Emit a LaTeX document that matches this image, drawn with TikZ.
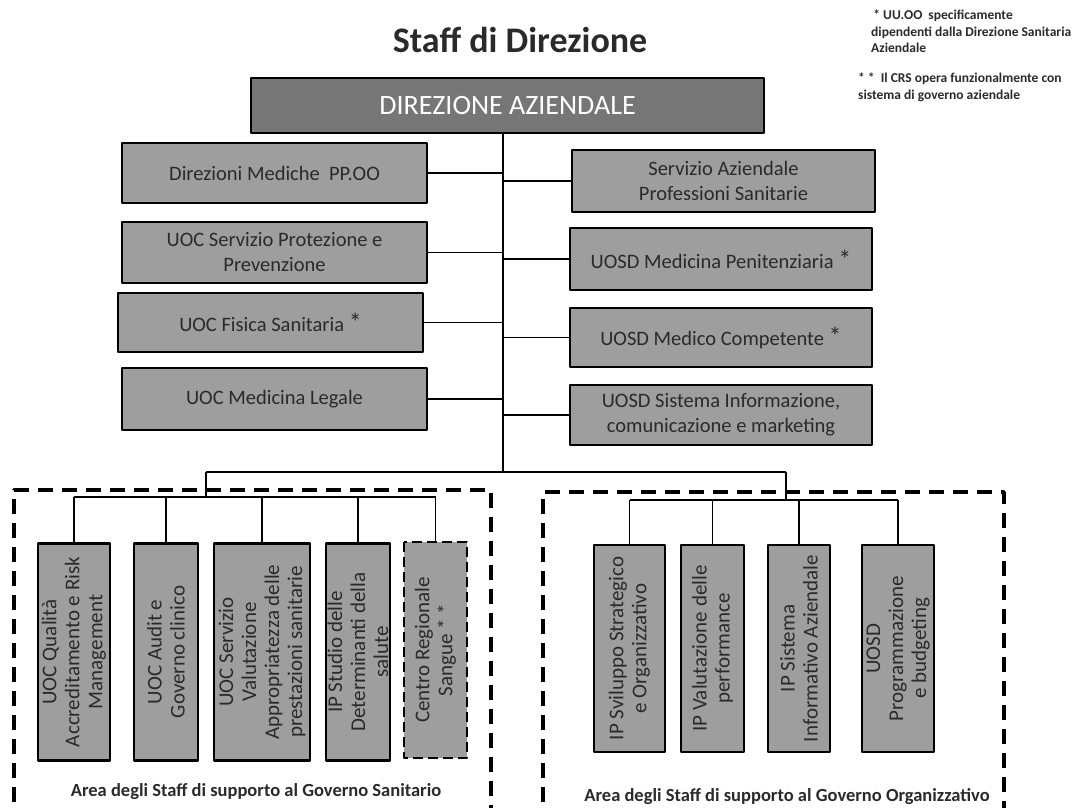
\documentclass[tikz,border=0pt]{standalone}
\usepackage{fontspec}
\setmainfont{Carlito}
\definecolor{boxgray}{HTML}{9E9E9E}
\definecolor{topgray}{HTML}{767676}
\definecolor{inkgray}{HTML}{2A2A2A}
\newcommand{\uustar}{{\fontsize{26}{26}\selectfont *}}
\tikzset{
  unitbox/.style={draw=black, line width=2.6pt, fill=boxgray, text=inkgray, align=center, inner sep=1pt, font=\fontsize{20.5}{25}\selectfont},
  colbox/.style={unitbox, rotate=90, font=\fontsize{21}{23}\selectfont},
  wire/.style={line width=1.4pt},
  areaframe/.style={line width=3.6pt, dash pattern=on 15pt off 9pt},
  arealabel/.style={font=\bfseries\fontsize{18.5}{20}\selectfont, text=inkgray},
  notetext/.style={anchor=north west, align=left, inner sep=0pt, font=\bfseries\fontsize{13.5}{16.5}\selectfont, text=inkgray},
}
\begin{document}
\begin{tikzpicture}[x=1pt, y=-1pt, line join=round]
\def \trunkx{503};
\def \forky{472};
\useasboundingbox (0,0) rectangle (1079,807);
\clip (0,0) rectangle (1079,807);
\node[font=\bfseries\fontsize{36}{40}\selectfont, text=inkgray] (title) at (520,40) {Staff di Direzione};
\node[notetext] (note1) at (871,10) {\,* UU.OO\ \ specificamente\\dipendenti dalla Direzione Sanitaria\\Aziendale};
\node[notetext] (note2) at (858,73) {* *\ \ Il CRS opera funzionalmente con\\sistema di governo aziendale};

\node[unitbox, fill=topgray, text=white, minimum width=513pt, minimum height=55pt, font=\fontsize{28}{30}\selectfont] (dir) at (507.5,105.5) {DIREZIONE AZIENDALE};

\node[unitbox, minimum width=305pt, minimum height=60pt] (l1) at (274.5,173) {Direzioni Mediche\ \ PP.OO};
\node[unitbox, minimum width=305pt, minimum height=61pt] (l2) at (274.5,252.5) {UOC Servizio Protezione e\\Prevenzione};
\node[unitbox, minimum width=305pt, minimum height=59pt] (l3) at (270.5,322.5) {UOC Fisica Sanitaria \uustar};
\node[unitbox, minimum width=305pt, minimum height=62pt] (l4) at (274.5,399) {UOC Medicina Legale};

\node[unitbox, minimum width=303pt, minimum height=62pt] (r1) at (723.5,181) {Servizio Aziendale\\Professioni Sanitarie};
\node[unitbox, minimum width=302pt, minimum height=62pt] (r2) at (721,259) {UOSD Medicina Penitenziaria \uustar};
\node[unitbox, minimum width=302pt, minimum height=59pt] (r3) at (721,337.5) {UOSD Medico Competente \uustar};
\node[unitbox, minimum width=302pt, minimum height=60pt] (r4) at (721,415) {UOSD Sistema Informazione,\\comunicazione e marketing};

\draw[areaframe] (14,850) rectangle (491,490);
\draw[areaframe] (543,850) rectangle (1004,492);

\node[colbox, minimum width=217pt, minimum height=72pt] (v1) at (74,652) {UOC Qualità\\Accreditamento e Risk\\Management};
\node[colbox, minimum width=217pt, minimum height=64pt] (v2) at (166,652) {UOC Audit e\\Governo clinico};
\node[colbox, minimum width=217pt, minimum height=96pt] (v3) at (262,652) {UOC Servizio\\Valutazione\\Appropriatezza delle\\prestazioni sanitarie};
\node[colbox, minimum width=217pt, minimum height=64pt] (v4) at (358,652) {IP Studio delle\\Determinanti della\\salute};
\node[colbox, dash pattern=on 10pt off 5pt, minimum width=216pt, minimum height=63pt] (v5) at (435.5,650) {Centro Regionale\\Sangue * *};

\node[colbox, minimum width=207pt, minimum height=71pt] (w1) at (629.5,648.5) {IP Sviluppo Strategico\\e Organizzativo};
\node[colbox, minimum width=207pt, minimum height=63pt] (w2) at (712.5,648.5) {IP Valutazione delle\\performance};
\node[colbox, minimum width=207pt, minimum height=62pt] (w3) at (799,648.5) {IP Sistema\\Informativo Aziendale};
\node[colbox, minimum width=207pt, minimum height=72pt] (w4) at (898,648.5) {UOSD\\Programmazione\\e budgeting};

\node[arealabel] (areasan) at (256,792) {Area degli Staff di supporto al Governo Sanitario};
\node[arealabel] (areaorg) at (787,797) {Area degli Staff di supporto al Governo Organizzativo};

\coordinate (fork) at (\trunkx,\forky);
\coordinate (forkl) at (206,\forky);
\coordinate (forkr) at (786,\forky);
\coordinate (busl) at (206,497);
\coordinate (busr) at (786,500);
\draw[wire] (dir.south -| fork) -- (fork);
\foreach \b in {l1,l2,l3,l4} \draw[wire] (\b.east) -- (\b.east -| fork);
\foreach \b in {r1,r2,r3,r4} \draw[wire] (\b.west) -- (\b.west -| fork);
\draw[wire] (forkl) -- (forkr);
\draw[wire] (forkl) -- (busl);
\draw[wire] (forkr) -- (busr);
\draw[wire] (v1.east |- busl) -- (v5.east |- busl);
\draw[wire] (w1.east |- busr) -- (w4.east |- busr);
\foreach \b in {v1,v2,v3,v4,v5} \draw[wire] (\b.east) -- (\b.east |- busl);
\foreach \b in {w1,w2,w3,w4} \draw[wire] (\b.east) -- (\b.east |- busr);
\end{tikzpicture}
\end{document}
